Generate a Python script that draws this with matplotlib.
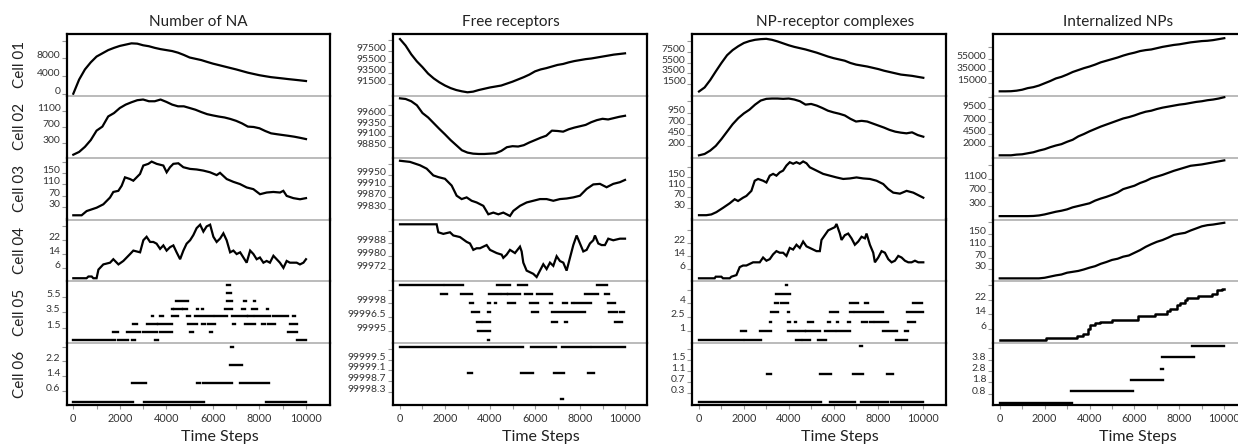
import numpy as np
import matplotlib
matplotlib.use('Agg')
import matplotlib.pyplot as plt
from matplotlib.ticker import FixedLocator

plt.rcParams['font.family'] = ['Lato', 'DejaVu Sans']

# ---------------- data ----------------
T = list(range(0, 10001, 250))

col_titles = ['Number of NA', 'Free receptors', 'NP-receptor complexes', 'Internalized NPs']
row_labels = ['Cell 01', 'Cell 02', 'Cell 03', 'Cell 04', 'Cell 05', 'Cell 06']
x_label = 'Time Steps'
x_major = [0, 2000, 4000, 6000, 8000, 10000]
x_minor = [1000, 3000, 5000, 7000, 9000]

# Number of NA
na_cell01 = [0, 3200, 5494, 7098, 8409, 9138, 9867, 10377, 10814, 11105, 11397, 11324, 10960, 10741,
             10377, 10085, 9867, 9648, 9284, 8774, 8191, 7900, 7608, 7200, 6806, 6480, 6150, 5820,
             5494, 5130, 4766, 4470, 4183, 3960, 3746, 3600, 3454, 3300, 3163, 3020, 2871]
na_cell02 = [0, 69, 196, 364, 599, 700, 953, 1037, 1163, 1247, 1306, 1357, 1374, 1331, 1331, 1374,
             1315, 1247, 1205, 1205, 1163, 1120, 1062, 1010, 978, 950, 927, 890, 843, 780, 700, 690,
             658, 590, 532, 510, 490, 470, 448, 420, 389]
# (time, value) readings
na_cell03 = [(0, 0), (358, 0), (573, 15), (1003, 27), (1290, 39), (1576, 63), (1720, 83), (1935, 87),
             (2078, 105), (2221, 135), (2436, 129), (2579, 123), (2723, 135), (2866, 147),
             (3009, 177), (3224, 183), (3367, 191), (3582, 183), (3869, 177), (4012, 153),
             (4156, 171), (4299, 183), (4514, 185), (4729, 171), (5016, 165), (5302, 163),
             (5589, 159), (5875, 153), (6162, 143), (6305, 151), (6592, 129), (6878, 119),
             (7165, 111), (7452, 99), (7738, 93), (8024, 75), (8311, 81), (8597, 83), (8884, 81),
             (9027, 87), (9170, 69), (9457, 61), (9744, 57), (10000, 61)]
na_cell04 = [(0, 0), (570, 0), (650, 1), (790, 1), (860, 0), (1000, 0), (1080, 5), (1290, 8),
             (1580, 9), (1720, 11), (1940, 8), (2150, 10), (2440, 14), (2580, 16), (2870, 15),
             (3010, 22), (3150, 24), (3300, 21), (3440, 21), (3580, 20), (3730, 17), (3870, 19),
             (4010, 16), (4160, 18), (4300, 19), (4440, 15), (4590, 11), (4730, 16), (4870, 20),
             (5020, 22), (5160, 25), (5300, 29), (5450, 31), (5590, 27), (5730, 30), (5880, 31),
             (6020, 24), (6160, 21), (6310, 23), (6450, 26), (6590, 22), (6740, 15), (6880, 16),
             (7020, 14), (7170, 15), (7310, 12), (7450, 9), (7600, 16), (7740, 14), (7880, 11),
             (8020, 12), (8170, 9), (8310, 10), (8450, 9), (8600, 13), (8740, 11), (8880, 9),
             (9030, 6), (9170, 10), (9310, 9), (9460, 9), (9600, 9), (9740, 8), (9890, 9),
             (10000, 11)]
# (level, start, end)
na_cell05 = [(0, 0, 1790), (0, 1935, 2364), (0, 2507, 2651), (0, 3510, 3654), (0, 9600, 10000),
             (1, 1720, 1935), (1, 2292, 2866), (1, 3009, 3582), (1, 3726, 4227), (1, 5015, 5130),
             (1, 5875, 5947), (1, 9243, 9600),
             (2, 2579, 2723), (2, 3152, 3582), (2, 3654, 4227), (2, 4944, 5302), (2, 5517, 5660),
             (2, 5803, 6090), (2, 6878, 6950), (2, 7380, 7810), (2, 8097, 8240), (2, 8383, 8670),
             (2, 9315, 9600),
             (3, 3367, 3439), (3, 3726, 3869), (3, 4227, 4514), (3, 4872, 5015), (3, 5230, 6019),
             (3, 6090, 6592), (3, 6807, 7452), (3, 7524, 7738), (3, 7810, 8455), (3, 8598, 9243),
             (3, 9458, 9530),
             (4, 4227, 4299), (4, 4342, 4657), (4, 4729, 4872), (4, 5302, 5374), (4, 5517, 5589),
             (4, 6520, 6807), (4, 7237, 7380), (4, 7667, 7881), (4, 8311, 8383),
             (5, 4414, 4915), (5, 6592, 6807), (5, 7352, 7409), (5, 7767, 7824),
             (6, 6621, 6764), (7, 6621, 6735)]
na_cell06 = [(0, 0, 2580), (0, 3038, 5632), (0, 8283, 10000), (1, 2537, 3110), (1, 5331, 5446),
             (1, 5589, 6807), (1, 7165, 8426), (2, 6735, 7237), (3, 6778, 6878)]

# Free receptors
fr_cell01 = [99750, 98556, 96968, 95675, 94616, 93440, 92558, 91853, 91265, 90794, 90442, 90206,
             90030, 90148, 90442, 90677, 90912, 91088, 91265, 91618, 91970, 92382, 92794, 93264,
             93852, 94205, 94440, 94734, 95028, 95204, 95498, 95734, 95910, 96086, 96204, 96380,
             96557, 96733, 96910, 97027, 97145]
fr_cell02 = [100000, 99985, 99931, 99835, 99649, 99544, 99407, 99270, 99140, 99003, 98882, 98761,
             98705, 98680, 98672, 98672, 98680, 98689, 98745, 98834, 98858, 98850, 98882, 98947,
             99003, 99060, 99108, 99229, 99221, 99205, 99262, 99302, 99334, 99366, 99431, 99480,
             99512, 99496, 99528, 99560, 99584]
fr_cell03 = [(0, 100000), (444, 99996), (889, 99984), (1185, 99972), (1481, 99948), (1703, 99942),
             (1999, 99936), (2296, 99912), (2518, 99876), (2740, 99864), (2962, 99870),
             (3184, 99858), (3406, 99852), (3703, 99840), (3925, 99810), (4147, 99816),
             (4369, 99810), (4591, 99816), (4887, 99804), (5035, 99822), (5332, 99840),
             (5628, 99852), (5924, 99858), (6220, 99864), (6516, 99864), (6813, 99858),
             (7109, 99864), (7405, 99866), (7702, 99870), (7998, 99876), (8294, 99900),
             (8590, 99916), (8886, 99918), (9182, 99906), (9478, 99918), (9775, 99924),
             (10000, 99932)]
fr_cell04 = [(0, 100000), (592, 100000), (1333, 100000), (1629, 100000), (1703, 99995),
             (1925, 99994), (2222, 99995), (2370, 99993), (2666, 99992), (2962, 99989),
             (3110, 99988), (3258, 99984), (3406, 99985), (3554, 99985), (3851, 99987),
             (3999, 99984), (4147, 99983), (4295, 99982), (4517, 99981), (4591, 99979),
             (4739, 99981), (4887, 99984), (5109, 99982), (5332, 99986), (5406, 99983),
             (5480, 99976), (5628, 99971), (5776, 99970), (5924, 99969), (6072, 99967),
             (6220, 99971), (6368, 99975), (6516, 99972), (6665, 99976), (6813, 99974),
             (6961, 99980), (7109, 99977), (7257, 99976), (7405, 99971), (7553, 99979),
             (7702, 99987), (7850, 99993), (7998, 99988), (8146, 99983), (8294, 99984),
             (8442, 99988), (8590, 99990), (8664, 99993), (8812, 99988), (8960, 99987),
             (9108, 99987), (9256, 99991), (9478, 99990), (9775, 99991), (10000, 99991)]
fr_cell05 = [(100000, 0, 1925), (100000, 2000, 2784), (100000, 4295, 4887), (100000, 5258, 5628),
             (100000, 8738, 9182),
             (99999, 1807, 2073), (99999, 2710, 3184), (99999, 3969, 4443), (99999, 4517, 4740),
             (99999, 4784, 5332), (99999, 5554, 5850), (99999, 6072, 6739), (99999, 8220, 8812),
             (99999, 9108, 9300),
             (99998, 3110, 3258), (99998, 3925, 3999), (99998, 4221, 4280), (99998, 4813, 5110),
             (99998, 5776, 6146), (99998, 6665, 6768), (99998, 7257, 7405), (99998, 7627, 7700),
             (99998, 7775, 8472), (99998, 9256, 9552),
             (99997, 3214, 3525), (99997, 3925, 3999), (99997, 5850, 6146), (99997, 6739, 8220),
             (99997, 9300, 9627), (99997, 9775, 9952),
             (99996, 3436, 3584), (99996, 3703, 3999), (99996, 6739, 6990), (99996, 7331, 7435),
             (99996, 9552, 9849),
             (99995, 3480, 3999), (99994, 3895, 3940)]
fr_cell06 = [(100000, 0, 5450), (100000, 5820, 6931), (100000, 7183, 8442), (100000, 8516, 10000),
             (99999, 3006, 3184), (99999, 5361, 5895), (99999, 6842, 7287), (99999, 8368, 8620),
             (99998, 7139, 7227)]

# NP-receptor complexes
np_cell01 = [0, 766, 2173, 3826, 5417, 6886, 7865, 8599, 9211, 9578, 9823, 9946, 10007, 9823, 9517,
             9150, 8783, 8477, 8232, 7987, 7681, 7375, 7008, 6641, 6335, 6090, 5845, 5417, 5111,
             4927, 4744, 4499, 4254, 3948, 3703, 3458, 3214, 3091, 2969, 2785, 2602]
np_cell02 = [0, 30, 105, 210, 360, 525, 690, 825, 930, 1013, 1125, 1215, 1253, 1260, 1260, 1253,
             1260, 1238, 1200, 1125, 1140, 1103, 1050, 990, 953, 923, 885, 810, 750, 765, 750, 705,
             660, 615, 563, 525, 503, 488, 510, 450, 413]
np_cell03 = [(0, 0), (327, 0), (551, 3), (774, 12), (1071, 29), (1369, 47), (1592, 63), (1741, 56),
             (1964, 69), (2113, 76), (2336, 96), (2485, 136), (2634, 143), (2857, 136), (3006, 129),
             (3155, 156), (3304, 163), (3452, 156), (3601, 169), (3750, 176), (3899, 196),
             (4047, 209), (4196, 203), (4345, 209), (4494, 203), (4643, 212), (4791, 205),
             (4940, 189), (5238, 176), (5535, 163), (5833, 156), (6131, 149), (6428, 143),
             (6726, 145), (7023, 149), (7321, 145), (7619, 143), (7916, 136), (8214, 123),
             (8437, 103), (8660, 89), (8958, 85), (9255, 96), (9553, 89), (10000, 69)]
np_cell04 = [(0, 0), (699, 0), (744, 1), (997, 1), (1071, 0), (1369, 0), (1443, 1), (1667, 2),
             (1815, 7), (1964, 8), (2113, 8), (2262, 9), (2411, 10), (2559, 10), (2708, 10),
             (2857, 13), (3006, 11), (3155, 12), (3304, 15), (3452, 17), (3601, 16), (3750, 16),
             (3899, 14), (4047, 19), (4196, 18), (4345, 21), (4494, 19), (4643, 23), (4791, 20),
             (4940, 19), (5089, 18), (5238, 17), (5387, 17), (5461, 24), (5610, 27), (5759, 30),
             (5907, 31), (6056, 32), (6131, 34), (6280, 28), (6354, 24), (6503, 27), (6652, 28),
             (6800, 25), (6949, 21), (7098, 23), (7247, 26), (7396, 25), (7470, 28), (7619, 21),
             (7768, 16), (7842, 10), (7991, 13), (8140, 17), (8288, 16), (8437, 12), (8586, 10),
             (8735, 11), (8884, 14), (9032, 13), (9181, 11), (9330, 10), (9479, 10), (9628, 11),
             (9776, 10), (10000, 10)]
np_cell05 = [(0, 0, 1964), (0, 2039, 2783), (0, 4345, 4568), (0, 4643, 4940), (0, 5312, 5640),
             (0, 8780, 9255),
             (1, 1860, 2083), (1, 2708, 3229), (1, 3973, 4420), (1, 4494, 4717), (1, 4791, 5386),
             (1, 5610, 6056), (1, 6131, 6726), (1, 8214, 8809), (1, 9181, 9330),
             (2, 3155, 3229), (2, 3973, 4047), (2, 4270, 4315), (2, 4866, 5089), (2, 5759, 5833),
             (2, 6131, 6205), (2, 6652, 6726), (2, 7247, 7470), (2, 7619, 7768), (2, 7842, 8437),
             (2, 9330, 9627),
             (3, 3229, 3527), (3, 3973, 4018), (3, 5833, 6205), (3, 6726, 6875), (3, 6949, 8214),
             (3, 9255, 10000),
             (4, 3378, 3527), (4, 3676, 3973), (4, 6726, 7098), (4, 7396, 7545), (4, 9553, 9925),
             (5, 3452, 4047), (6, 3869, 3928)]
np_cell06 = [(0, 0, 5461), (0, 5833, 6949), (0, 7217, 8437), (0, 8541, 10000), (1, 3050, 3229),
             (1, 5387, 5907), (1, 6845, 7292), (1, 8363, 8630), (2, 7172, 7247)]

# Internalized NPs
in_cell01 = [0, 0, 200, 1096, 2740, 5480, 7124, 9864, 13700, 17536, 21920, 24660, 28496, 32880,
             36168, 39456, 42196, 45484, 49320, 52060, 54800, 57540, 60828, 63568, 65760, 68500,
             70144, 71240, 73432, 75624, 77268, 78912, 80008, 81652, 83296, 84392, 85488, 86036,
             87132, 88776, 90420]
in_cell02 = [0, 0, 0, 140, 210, 420, 630, 980, 1260, 1680, 2030, 2310, 2800, 3220, 3920, 4410,
             4970, 5460, 5950, 6370, 6790, 7210, 7630, 7910, 8260, 8680, 9030, 9240, 9590, 9870,
             10080, 10290, 10500, 10640, 10850, 11060, 11200, 11410, 11550, 11760, 12040]
in_cell03 = [0, 0, 0, 0, 0, 0, 5, 20, 50, 90, 130, 160, 200, 260, 300, 340, 380, 460, 520, 570,
             630, 700, 800, 850, 900, 980, 1040, 1120, 1170, 1220, 1280, 1340, 1390, 1440, 1490,
             1510, 1530, 1560, 1590, 1620, 1650]
in_cell04 = [0, 0, 0, 0, 0, 0, 0, 0, 2, 6, 10, 13, 19, 22, 25, 30, 36, 41, 49, 55, 62, 66, 73, 77,
             86, 95, 106, 115, 123, 129, 137, 146, 150, 153, 161, 168, 175, 179, 181, 184, 187]
in_cell05_t = [0, 2051, 3448, 3715, 3938, 4012, 4235, 4458, 4978, 6167, 6910, 7430, 7579, 7876,
               8024, 8247, 8322, 8842, 9436, 9659, 9882, 10000]
in_cell05_v = [0, 1, 2, 3, 6, 8, 9, 10, 11, 13, 14, 16, 17, 19, 20, 22, 23, 24, 25, 27, 28, 28]
in_cell06 = [(0, 0, 3240), (1, 3165, 5914), (2, 5840, 7252), (3, 7178, 7282), (4, 7207, 8649),
             (5, 8574, 10000)]

# y tick values / labels per column (rows Cell 01..06)
yt_na = [[0, 4000, 8000, 12000], [300, 700, 1100], [30, 70, 110, 150, 190], [6, 14, 22, 30],
         [1.5, 3.5, 5.5], [0.6, 1.4, 2.2, 3.0]]
yl_na = [['0', '4000', '8000', ''], ['300', '700', '1100'], ['30', '70', '110', '150', ''],
         ['6', '14', '22', ''], ['1.5', '3.5', '5.5'], ['0.6', '1.4', '2.2', '']]
yt_fr = [[91500, 93500, 95500, 97500, 99500], [98850, 99100, 99350, 99600, 99850],
         [99830, 99870, 99910, 99950, 99990], [99972, 99980, 99988, 99996],
         [99995, 99996.5, 99998, 99999.5], [99998.3, 99998.7, 99999.1, 99999.5, 99999.9]]
yl_fr = [['91500', '93500', '95500', '97500', ''], ['98850', '99100', '99350', '99600', ''],
         ['99830', '99870', '99910', '99950', ''], ['99972', '99980', '99988', ''],
         ['99995', '99996.5', '99998', ''], ['99998.3', '99998.7', '99999.1', '99999.5', '']]
yt_np = [[1500, 3500, 5500, 7500, 9500], [200, 450, 700, 950, 1200], [30, 70, 110, 150, 190],
         [6, 14, 22, 30], [1, 2.5, 4, 5.5], [0.3, 0.7, 1.1, 1.5, 1.9]]
yl_np = [['1500', '3500', '5500', '7500', ''], ['200', '450', '700', '950', ''],
         ['30', '70', '110', '150', ''], ['6', '14', '22', ''], ['1', '2.5', '4', ''],
         ['0.3', '0.7', '1.1', '1.5', '']]
yt_in = [[15000, 35000, 55000, 75000], [2000, 4500, 7000, 9500, 12000], [300, 700, 1100, 1500],
         [30, 70, 110, 150, 190], [6, 14, 22, 30], [0.8, 1.8, 2.8, 3.8, 4.8]]
yl_in = [['15000', '35000', '55000', ''], ['2000', '4500', '7000', '9500', ''],
         ['300', '700', '1100', ''], ['30', '70', '110', '150', ''], ['6', '14', '22', ''],
         ['0.8', '1.8', '2.8', '3.8', '']]

# ---------------- layout / scales ----------------
W, H = 1238, 445
col_px = [(67, 330), (393, 647), (692, 946), (993, 1240)]
top_px, bot_px = 34, 405
row_h = (bot_px - top_px) / 6.0
xlims = [(-271, 11032), (-311, 10977), (-312, 11012), (-299, 10700)]
ylims = [
    [(-480, 13510), (-74, 1466), (-15, 205), (-1.8, 34), (-0.42, 7.47), (-0.18, 3.2)],
    [(89382, 100678), (98584, 100060), (99791.5, 100011), (99964.3, 100003),
     (99993.64, 100000.4), (99997.79, 100000.13)],
    [(-826, 10925), (-52, 1320), (-17, 227), (-1.9, 36.8), (-0.36, 6.4), (-0.12, 2.11)],
    [(-7670, 97540), (-490, 12320), (-100, 1730), (-10, 198), (-1.8, 32), (-0.2, 5.24)],
]
title_dx = [0, -9, 16, 2]

panels = [
    [('line', na_cell01), ('line', na_cell02), ('pairs', na_cell03), ('pairs', na_cell04),
     ('seg', na_cell05), ('seg', na_cell06)],
    [('line', fr_cell01), ('line', fr_cell02), ('pairs', fr_cell03), ('pairs', fr_cell04),
     ('seg', fr_cell05), ('seg', fr_cell06)],
    [('line', np_cell01), ('line', np_cell02), ('pairs', np_cell03), ('pairs', np_cell04),
     ('seg', np_cell05), ('seg', np_cell06)],
    [('line', in_cell01), ('line', in_cell02), ('line', in_cell03), ('line', in_cell04),
     ('step', (in_cell05_t, in_cell05_v)), ('seg', in_cell06)],
]
yticks_all = [yt_na, yt_fr, yt_np, yt_in]
ylabels_all = [yl_na, yl_fr, yl_np, yl_in]

fig = plt.figure(figsize=(W / 100, H / 100), dpi=100)
fig.patch.set_facecolor('white')

sep_color = '#a8a8a8'
tick_color = '#9a9a9a'
lab_color = '#333333'
txt_color = '#222222'

for c in range(4):
    l, r = col_px[c]
    for k in range(6):
        y_top = top_px + k * row_h
        ax = fig.add_axes([l / W, 1 - (y_top + row_h) / H, (r - l) / W, row_h / H])
        ax.set_facecolor('none')
        kind, payload = panels[c][k]
        if kind == 'line':
            ax.plot(T, payload, color='black', lw=1.6, solid_joinstyle='round')
        elif kind == 'pairs':
            ax.plot([p[0] for p in payload], [p[1] for p in payload], color='black', lw=1.6,
                    solid_joinstyle='miter')
        elif kind == 'step':
            ax.step(payload[0], payload[1], where='post', color='black', lw=1.8)
        else:
            lv = [s[0] for s in payload]
            st = [s[1] for s in payload]
            en = [s[2] for s in payload]
            lc = ax.hlines(lv, st, en, color='black', lw=1.7)
            lc.set_capstyle('projecting')
        ax.set_xlim(*xlims[c])
        ax.set_ylim(*ylims[c][k])
        ax.yaxis.set_major_locator(FixedLocator(yticks_all[c][k]))
        ax.set_yticklabels(ylabels_all[c][k])
        ax.tick_params(axis='y', length=3.5, width=0.8, color=tick_color, pad=1.2,
                       labelsize=7.5, labelcolor=lab_color)
        for lbl in ax.get_yticklabels():
            lbl.set_va('baseline')
        for side in ['left', 'right']:
            ax.spines[side].set_color('black')
            ax.spines[side].set_linewidth(1.6)
        ax.spines['top'].set_visible(k == 0)
        ax.spines['top'].set_color('black')
        ax.spines['top'].set_linewidth(1.6)
        if k == 5:
            ax.spines['bottom'].set_color('black')
            ax.spines['bottom'].set_linewidth(1.6)
            ax.xaxis.set_major_locator(FixedLocator(x_major))
            ax.xaxis.set_minor_locator(FixedLocator(x_minor))
            ax.set_xticklabels([str(v) for v in x_major])
            ax.tick_params(axis='x', which='both', length=3, width=0.8, color=tick_color,
                           pad=2.5, labelsize=7.8, labelcolor=lab_color)
        else:
            ax.spines['bottom'].set_color(sep_color)
            ax.spines['bottom'].set_linewidth(1.1)
            ax.tick_params(axis='x', which='both', bottom=False, labelbottom=False)
        if c == 0:
            fig.text(20 / W, 1 - (y_top + row_h / 2) / H, row_labels[k], rotation=90,
                     ha='center', va='center', fontsize=11, color=txt_color)
    cx = (l + r) / 2
    fig.text((cx + title_dx[c]) / W, 1 - 22 / H, col_titles[c], ha='center', va='center',
             fontsize=11, color=txt_color)
    fig.text((cx + 21) / W, 1 - 437 / H, x_label, ha='center', va='center',
             fontsize=11.5, color=txt_color)

fig.savefig('out.png', dpi=100)
